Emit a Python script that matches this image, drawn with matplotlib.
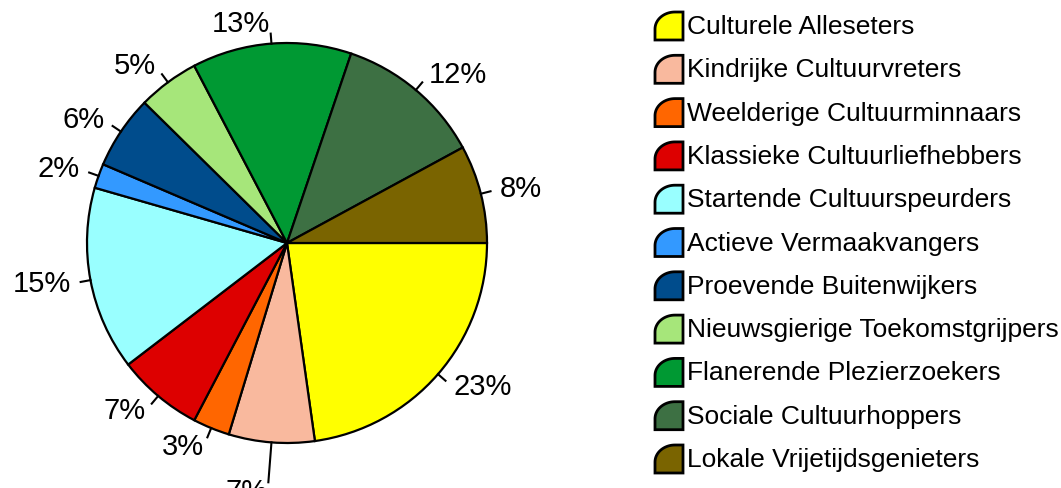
import numpy as np
import matplotlib.pyplot as plt
from matplotlib.patches import Polygon

plt.rcParams['font.family'] = ['Liberation Sans', 'DejaVu Sans']

# data
segments = ["Culturele Alleseters", "Kindrijke Cultuurvreters", "Weelderige Cultuurminnaars",
            "Klassieke Cultuurliefhebbers", "Startende Cultuurspeurders", "Actieve Vermaakvangers",
            "Proevende Buitenwijkers", "Nieuwsgierige Toekomstgrijpers", "Flanerende Plezierzoekers",
            "Sociale Cultuurhoppers", "Lokale Vrijetijdsgenieters"]
shares = [23, 7, 3, 7, 15, 2, 6, 5, 13, 12, 8]
colors = ["#FFFF00", "#F9B99E", "#FF6600", "#DD0000", "#99FFFF", "#3399FF",
          "#004C8C", "#A6E67A", "#009933", "#3D7043", "#7A6400"]

# extra label distance for slices whose label was pushed outward
label_push = {1: 0.15}

fig = plt.figure(figsize=(10.61, 4.88), dpi=100)
ax = fig.add_axes([87 / 1061, (488 - 443) / 488, 400 / 1061, 400 / 488])

wedges, _ = ax.pie(shares, colors=colors, startangle=0, counterclock=False, radius=1,
                   wedgeprops=dict(edgecolor='black', linewidth=1.6))
ax.set_xlim(-1, 1)
ax.set_ylim(-1, 1)
ax.set_aspect('equal')
ax.axis('off')

# R-style labels: tick from r to 1.05r, text at 1.1r
for i, w in enumerate(wedges):
    mid = np.deg2rad((w.theta1 + w.theta2) / 2)
    cx, cy = np.cos(mid), np.sin(mid)
    push = label_push.get(i, 0)
    ax.plot([cx, (1.05 + push) * cx], [cy, (1.05 + push) * cy], color='black', lw=1.5,
            clip_on=False)
    ax.text((1.1 + push) * cx, (1.1 + push) * cy, f"{shares[i]}%", fontsize=21,
            ha='left' if cx >= 0 else 'right', va='center', clip_on=False)

# legend with rounded swatches
lax = fig.add_axes([0, 0, 1, 1])
lax.set_xlim(0, 1061)
lax.set_ylim(488, 0)
lax.axis('off')
t = np.linspace(np.pi / 2, np.pi, 20)
for i, (name, col) in enumerate(zip(segments, colors)):
    yc = 26 + i * 43.3
    x0, x1, y0, y1 = 655, 683, yc - 14, yc + 14
    arc = [(675 + 20 * np.cos(a), (y0 + 17) - 17 * np.sin(a)) for a in t]
    pts = [(x0, y1), (x1, y1), (x1, y0)] + arc
    lax.add_patch(Polygon(pts, closed=True, facecolor=col, edgecolor='black', lw=2))
    lax.text(687, yc + 1, name, fontsize=19, va='center', ha='left')

fig.savefig("out.png", dpi=100)
